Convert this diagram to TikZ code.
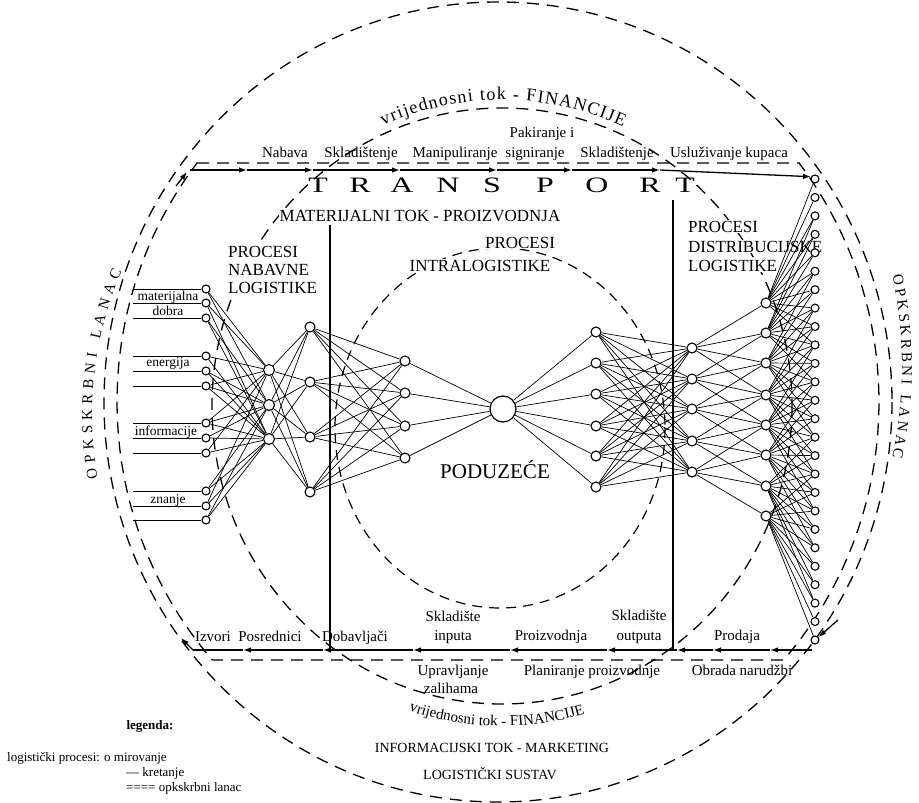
\documentclass[tikz,border=0pt]{standalone}
\usepackage{fontspec}
\usepackage{graphicx}
\setmainfont{Liberation Serif}
\usetikzlibrary{arrows.meta,decorations.text}
\begin{document}
\begin{tikzpicture}[x=1pt,y=-1pt,
  net/.style={line width=0.7pt},
  dot/.style={circle,draw,fill=white,line width=1.1pt,inner sep=0pt,minimum size=10pt},
  sdot/.style={circle,draw,fill=white,line width=1.1pt,inner sep=0pt,minimum size=8pt},
  bigdot/.style={circle,draw,fill=white,line width=1.2pt,inner sep=0pt,minimum size=26pt},
  flow/.style={line width=1.3pt,-{Latex[length=8pt,width=5.5pt]}},
  plainline/.style={line width=1.3pt},
  chain/.style={line width=1.3pt,dash pattern=on 12pt off 8pt},
  lbl/.style={font=\fontsize{15}{18}\selectfont,inner sep=0pt,anchor=base},
  slbl/.style={font=\fontsize{13.5}{16}\selectfont,inner sep=0pt,anchor=base},
  caps/.style={font=\fontsize{17}{20}\selectfont,inner sep=1pt,anchor=base west,fill=white},
  capc/.style={font=\fontsize{17}{20}\selectfont,inner sep=1pt,anchor=base,fill=white},
  leg/.style={font=\fontsize{13}{15}\selectfont,inner sep=0pt,anchor=base west},
  big/.style={font=\fontsize{22}{24}\selectfont,inner sep=0pt,anchor=base},
]
\useasboundingbox (0,0) rectangle (919,803);
% ---------- dashed ellipses ----------
\coordinate (oc) at (498,402);
\draw[chain] (oc) ellipse [x radius=394, y radius=400];
\coordinate (vc) at (502,406);
\draw[chain] (vc) ellipse [x radius=290, y radius=298];
\coordinate (pc) at (500,428);
\draw[line width=1.2pt,dash pattern=on 10pt off 7pt] (pc) ellipse [x radius=165, y radius=180];
% supply chain inner ring
\draw[chain] (197,163) -- (799,163)
  -- plot[domain=37.8:-41.4,samples=40,variable=\t] ({498+381*cos(\t)},{402-390*sin(\t)})
  -- plot[domain=221.4:142.2,samples=40,variable=\t] ({498+381*cos(\t)},{402-390*sin(\t)})
  -- cycle;
% ---------- curved texts ----------
\path[decorate,decoration={text along path,text align={fit to path},
  text={|\fontsize{18}{18}\selectfont|vrijednosni tok - FINANCIJE}}]
  plot[domain=113.5:66,samples=50,variable=\t] ({502+298*cos(\t)},{406-306*sin(\t)});
\path[decorate,decoration={text along path,text align={center},
  text={|\fontsize{15}{15}\selectfont|vrijednosni tok - FINANCIJE}}]
  plot[domain=250:288,samples=50,variable=\t] ({502+305*cos(\t)},{406-320*sin(\t)});
\path[decorate,decoration={text along path,text align={fit to path},
  text={|\fontsize{15}{15}\selectfont|OPKSKRBNI LANAC}}]
  plot[domain=189.5:158,samples=50,variable=\t] ({498+406*cos(\t)},{415-383*sin(\t)});
\path[decorate,decoration={text along path,text align={fit to path},
  text={|\fontsize{15}{15}\selectfont|OPKSKRBNI LANAC}}]
  plot[domain=12.4:-12.6,samples=50,variable=\t] ({498+404*cos(\t)},{366-420*sin(\t)});
% ---------- caps labels ----------
\node[capc] (mt) at (420,221) {MATERIJALNI TOK - PROIZVODNJA};
\node[caps] (pn1) at (227,257) {PROCESI};
\node[caps] (pn2) at (227,275) {NABAVNE};
\node[caps] (pn3) at (227,293) {LOGISTIKE};
\node[caps] (pd1) at (687,232) {PROCESI};
\node[caps] (pd2) at (687,252) {DISTRIBUCIJSKE};
\node[caps] (pd3) at (687,271) {LOGISTIKE};
\node[capc] (pi1) at (520,248) {PROCESI};
\node[capc] (pi2) at (480,271) {INTRALOGISTIKE};
\node[font=\fontsize{21}{24}\selectfont,anchor=base] (pod) at (495,478) {PODUZEĆE};
% TRANSPORT
\foreach \x/\c [count=\i] in {318/T,360/R,402/A,448/N,492/S,545/P,597/O,650/R,685/T}
  \node[big] (tr\i) at (\x,192) {\scalebox{1.45}[1]{\c}};
% ---------- top labels ----------
\node[lbl] (n1) at (285,157) {Nabava};
\node[lbl] (n2) at (361,157) {Skladištenje};
\node[lbl] (n3) at (455,157) {Manipuliranje};
\node[lbl] (n4) at (542,137) {Pakiranje i};
\node[lbl] (n5) at (535,157) {signiranje};
\node[lbl] (n6) at (617,157) {Skladištenje};
\node[lbl] (n7) at (729,157) {Usluživanje kupaca};
% ---------- bottom labels ----------
\node[lbl] (b1l) at (213,641) {Izvori};
\node[lbl] (b2l) at (270,641) {Posrednici};
\node[lbl] (b3l) at (355,641) {Dobavljači};
\node[lbl] (b4l) at (453,621) {Skladište};
\node[lbl] (b5l) at (453,640) {inputa};
\node[lbl] (b6l) at (551,640) {Proizvodnja};
\node[lbl] (b7l) at (639,620) {Skladište};
\node[lbl] (b8l) at (639,640) {outputa};
\node[lbl] (b9l) at (737,640) {Prodaja};
\node[lbl] (c1l) at (453,675) {Upravljanje};
\node[lbl] (c2l) at (451,693) {zalihama};
\node[lbl] (c3l) at (592,675) {Planiranje proizvodnje};
\node[lbl] (c4l) at (742,675) {Obrada narudžbi};
\node[font=\fontsize{14}{16}\selectfont,anchor=base] (inf) at (492,752) {INFORMACIJSKI TOK - MARKETING};
\node[font=\fontsize{14}{16}\selectfont,anchor=base] (lss) at (490,779) {LOGISTIČKI SUSTAV};
% legend
\node[font=\bfseries\fontsize{13}{15}\selectfont,anchor=base] (lg) at (150,729) {legenda:};
\node[leg] (lg1) at (7,761) {logistički procesi:};
\node[leg] (lg2) at (104,761) {o mirovanje};
\node[leg] (lg3) at (126,776) {— kretanje};
\node[leg] (lg4) at (126,791) {==== opkskrbni lanac};
% input labels
\node[slbl] (il1) at (168,300) {materijalna};
\node[slbl] (il2) at (168,315) {dobra};
\node[slbl] (il3) at (168,366) {energija};
\node[slbl] (il4) at (166,435) {informacije};
\node[slbl] (il5) at (168,503) {znanje};
% ---------- network nodes ----------
\foreach \y [count=\i] in {289,303,318,356,371,386,423,438,453,491,506,520}{
  \node[sdot] (a\i) at (206,\y) {};
  \coordinate (ai\i) at (133,\y);
}
\foreach \y [count=\i] in {370,405,439} \node[dot,minimum size=11pt] (b\i) at (269,\y) {};
\foreach \y [count=\i] in {327,382,437,492} \node[dot] (c\i) at (310,\y) {};
\foreach \y [count=\i] in {361,393,426,458} \node[dot] (d\i) at (405,\y) {};
\node[bigdot] (m) at (503,409) {};
\foreach \y [count=\i] in {332,363,394,426,456,487} \node[dot] (e\i) at (596,\y) {};
\foreach \y [count=\i] in {348,379,409,441,472} \node[dot] (f\i) at (692,\y) {};
\foreach \y [count=\i] in {303,333,363,395,425,455,486,516} \node[dot] (g\i) at (766,\y) {};
\foreach \k in {1,...,26} \node[sdot] (h\k) at (815,{179+18.44*(\k-1)}) {};
% ---------- network edges ----------
\foreach \i in {1,...,12} \draw[line width=0.9pt] (ai\i) -- (a\i);
\foreach \i/\j in {1/1,1/2,2/1,2/3,3/2,3/3,4/1,4/3,5/2,5/3,6/1,6/2,6/3,7/1,7/2,7/3,8/2,8/3,9/1,9/3,10/2,10/3,11/1,11/3,12/2,12/3}
  \draw[net] (a\i) -- (b\j);
\foreach \i in {1,2,3} \foreach \j in {1,...,4} \draw[net] (b\i) -- (c\j);
\foreach \i in {1,...,4} \foreach \j in {1,...,4} \draw[net] (c\i) -- (d\j);
\foreach \i in {1,...,4} \draw[net] (d\i) -- (m);
\foreach \i in {1,...,6} \draw[net] (m) -- (e\i);
\foreach \i in {1,...,6} \foreach \j in {1,...,5} \draw[net] (e\i) -- (f\j);
\foreach \i in {1,...,5} \foreach \k in {0,...,3} {\pgfmathtruncatemacro\jj{\i+\k} \draw[net] (f\i) -- (g\jj);}
\foreach \j/\s in {1/1,2/3,3/6,4/8,5/10,6/12,7/15,8/17} \foreach \k in {0,...,9} {\pgfmathtruncatemacro\tt{\s+\k} \draw[net] (g\j) -- (h\tt);}
% ---------- vertical lines ----------
\coordinate (v1t) at (330,225); \coordinate (v1b) at (330,650);
\coordinate (v2t) at (673,200); \coordinate (v2b) at (673,650);
\draw[plainline] (v1t) -- (v1b);
\draw[plainline] (v2t) -- (v2b);
% ---------- top flow ----------
\coordinate (ts) at (190,170);
\foreach \x [count=\i] in {247,313,400,497,572,660} \coordinate (tp\i) at (\x,170);
\draw[flow] (ts) -- (tp1);
\draw[flow] (tp1) -- (tp2);
\draw[flow] (tp2) -- (tp3);
\draw[flow] (tp3) -- (tp4);
\draw[flow] (tp4) -- (tp5);
\draw[flow] (tp5) -- (tp6);
\draw[flow] (tp6) -- (h1.150);
% ---------- bottom flow ----------
\coordinate (bs) at (812,650);
\foreach \x [count=\i] in {770,713,677,607,510,413,323,243} \coordinate (bp\i) at (\x,650);
\coordinate (be) at (193,650);
\draw[flow] (bs) -- (bp1);
\draw[flow] (bp1) -- (bp2);
\draw[flow] (bp2) -- (bp3);
\draw[flow] (bp3) -- (bp4);
\draw[flow] (bp4) -- (bp5);
\draw[flow] (bp5) -- (bp6);
\draw[flow] (bp6) -- (bp7);
\draw[flow] (bp7) -- (bp8);
\draw[plainline] (bp8) -- (be);
% corner arrows of the supply chain ring
\coordinate (ca1) at (176,186); \coordinate (ca1e) at (187,172);
\draw[flow] (ca1) -- (ca1e);
\coordinate (ca2e) at (181,638);
\draw[flow] (be) -- (ca2e);
\coordinate (ca3) at (838,620);
\draw[flow] (ca3) -- (h26);
\end{tikzpicture}
\end{document}
